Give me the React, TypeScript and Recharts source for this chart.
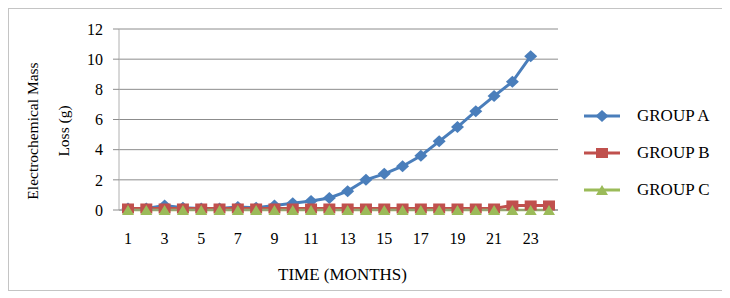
import { CartesianGrid, Line, LineChart, XAxis, YAxis } from "recharts";

const months = ["1", "2", "3", "4", "5", "6", "7", "8", "9", "10", "11", "12", "13", "14", "15", "16", "17", "18", "19", "20", "21", "22", "23", "24"];
const groupA: (number | null)[] = [0.1, 0.1, 0.3, 0.15, 0.1, 0.1, 0.2, 0.15, 0.3, 0.45, 0.6, 0.8, 1.25, 2.0, 2.4, 2.9, 3.6, 4.55, 5.5, 6.55, 7.55, 8.5, 10.2, null];
const groupB = [0.1, 0.1, 0.1, 0.1, 0.1, 0.1, 0.1, 0.1, 0.1, 0.1, 0.1, 0.1, 0.1, 0.1, 0.1, 0.1, 0.1, 0.1, 0.1, 0.1, 0.1, 0.3, 0.3, 0.3];
const groupC = [0, 0, 0, 0, 0, 0, 0, 0, 0, 0, 0, 0, 0, 0, 0, 0, 0, 0, 0, 0, 0, 0, 0, 0];
const yTicks = [0, 2, 4, 6, 8, 10, 12];

const data = months.map((m, i) => ({ month: m, a: groupA[i], b: groupB[i], c: groupC[i] }));

const BLUE = "#4a7ebb";
const RED = "#c0504d";
const GREEN = "#9bbb59";
const GRID = "#8c8c8c";
const FONT = "'Liberation Serif', 'Times New Roman', serif";

function Diamond({ cx, cy }: any) {
  if (cx == null || cy == null) return null;
  const rx = 6.5, ry = 6;
  return <path d={`M${cx},${cy - ry}L${cx + rx},${cy}L${cx},${cy + ry}L${cx - rx},${cy}Z`} fill={BLUE} />;
}

function Square({ cx, cy }: any) {
  if (cx == null || cy == null) return null;
  return <rect x={cx - 6} y={cy - 5} width={12} height={10} fill={RED} />;
}

function Triangle({ cx, cy }: any) {
  if (cx == null || cy == null) return null;
  return <path d={`M${cx},${cy - 5}L${cx + 6},${cy + 5}L${cx - 6},${cy + 5}Z`} fill={GREEN} />;
}

const legendItems = [
  { name: "GROUP A", color: BLUE, Shape: Diamond },
  { name: "GROUP B", color: RED, Shape: Square },
  { name: "GROUP C", color: GREEN, Shape: Triangle },
];

function LegendBox() {
  return (
    <div style={{ position: "absolute", left: 573, top: 88 }}>
      {legendItems.map(({ name, color, Shape }) => (
        <div key={name} style={{ display: "flex", alignItems: "center", height: 37 }}>
          <svg width={40} height={14}>
            <line x1={2} y1={7} x2={38} y2={7} stroke={color} strokeWidth={3} />
            <Shape cx={20} cy={7} />
          </svg>
          <span style={{ marginLeft: 15, fontFamily: FONT, fontSize: 17, color: "#000" }}>{name}</span>
        </div>
      ))}
    </div>
  );
}

export default function App() {
  return (
    <div style={{ position: "relative", width: 716, height: 281, border: "1px solid #c4c4c4", background: "#fff" }}>
      <LineChart width={716} height={281} data={data} margin={{ top: 20, right: 167, bottom: 0, left: 0 }}>
        <CartesianGrid horizontal vertical={false} stroke={GRID} strokeWidth={1} />
        <XAxis
          dataKey="month"
          interval={1}
          height={80}
          padding={{ left: 9, right: 9 }}
          tickLine={false}
          tickMargin={17}
          axisLine={{ stroke: GRID }}
          tick={{ fill: "#000", fontFamily: FONT, fontSize: 16 }}
          label={{ value: "TIME (MONTHS)", position: "insideBottom", offset: 10, dx: 4, fill: "#000", fontFamily: FONT, fontSize: 17 }}
        />
        <YAxis
          domain={[0, 12]}
          ticks={yTicks}
          width={110}
          tickSize={6}
          tickMargin={10}
          tickLine={{ stroke: GRID }}
          axisLine={{ stroke: "#b0b0b0" }}
          tick={{ fill: "#000", fontFamily: FONT, fontSize: 16 }}
          label={() => (
            <g>
              <text transform="translate(29, 122) rotate(-90)" textAnchor="middle" fontFamily={FONT} fontSize={15.5} fill="#000">
                Electrochemical Mass
              </text>
              <text transform="translate(60, 122) rotate(-90)" textAnchor="middle" fontFamily={FONT} fontSize={15.5} fill="#000">
                Loss (g)
              </text>
            </g>
          )}
        />
        <Line dataKey="a" name="GROUP A" stroke={BLUE} strokeWidth={3} dot={<Diamond />} activeDot={false} isAnimationActive={false} />
        <Line dataKey="b" name="GROUP B" stroke={RED} strokeWidth={3} dot={<Square />} activeDot={false} isAnimationActive={false} />
        <Line dataKey="c" name="GROUP C" stroke={GREEN} strokeWidth={2.5} dot={<Triangle />} activeDot={false} isAnimationActive={false} />
      </LineChart>
      <LegendBox />
    </div>
  );
}
